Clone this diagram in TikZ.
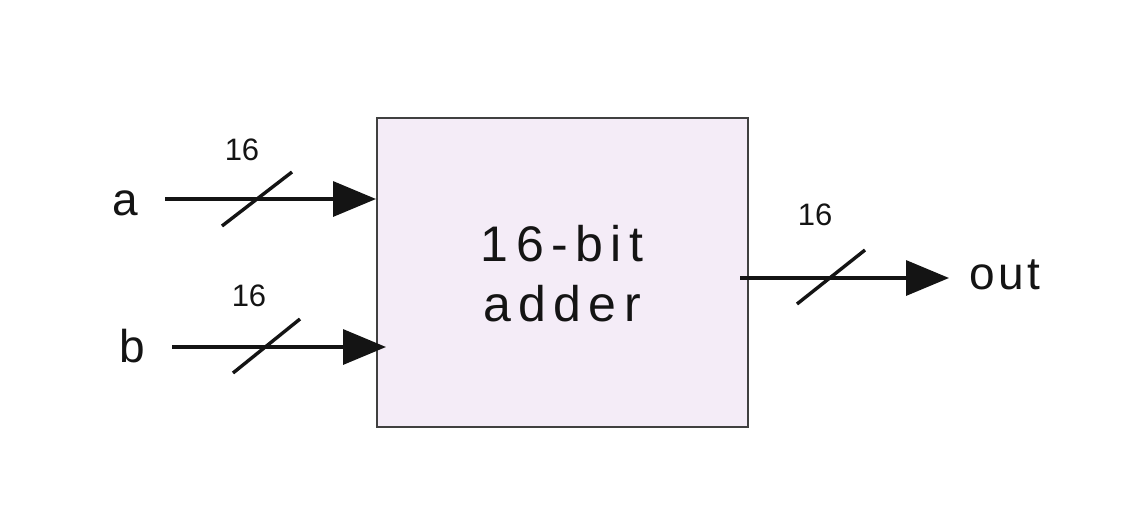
\documentclass[tikz,border=0pt]{standalone}
\usepackage{fontspec}
\setmainfont{Liberation Sans}
\usetikzlibrary{arrows.meta}
\definecolor{boxfill}{HTML}{F4ECF7}
\definecolor{boxline}{HTML}{404040}
\definecolor{ink}{HTML}{141414}
\begin{document}
\begin{tikzpicture}[x=1pt,y=-1pt,
  wire/.style={line width=3.4pt,draw=ink,-{Triangle[length=43pt,width=35pt]}},
  slash/.style={line width=3.4pt,draw=ink},
  buslbl/.style={font=\fontsize{31}{34}\selectfont,text=ink,inner sep=0pt},
  portlbl/.style={font=\fontsize{46}{50}\selectfont,text=ink,inner sep=0pt},
  blockbox/.style={draw=boxline,line width=2.6pt,fill=boxfill,minimum width=371pt,minimum height=309pt,inner sep=0pt}]
\useasboundingbox (0,0) rectangle (1143,528);
\fill[white] (0,0) rectangle (1143,528);
\node[blockbox] (add) at (562.5,272.5) {};
\node[text=ink,align=center,font=\fontsize{50}{60}\selectfont\addfontfeature{LetterSpace=15}] (lbl) at (562,274) {16-bit\\adder};
% inputs
\node[portlbl,anchor=base] (a) at (125,215) {a};
\node[portlbl,anchor=base] (b) at (132,362) {b};
\node[portlbl,anchor=base west,font=\fontsize{46}{50}\selectfont\addfontfeature{LetterSpace=8}] (out) at (969,289) {out};
\coordinate (as) at (165,199);
\coordinate (ae) at (376,199);
\coordinate (bs) at (172,347);
\coordinate (be) at (386,347);
\coordinate (os) at (740,278);
\coordinate (oe) at (949,278);
\draw[wire] (as) -- (ae);
\draw[wire] (bs) -- (be);
\draw[wire] (os) -- (oe);
\coordinate (sa1) at (222,226); \coordinate (sa2) at (292,172);
\coordinate (sb1) at (233,373); \coordinate (sb2) at (300,319);
\coordinate (so1) at (797,304); \coordinate (so2) at (865,250);
\draw[slash] (sa1) -- (sa2);
\draw[slash] (sb1) -- (sb2);
\draw[slash] (so1) -- (so2);
\node[buslbl] (na) at (242,150) {16};
\node[buslbl] (nb) at (249,296) {16};
\node[buslbl] (no) at (815,215) {16};
\end{tikzpicture}
\end{document}
